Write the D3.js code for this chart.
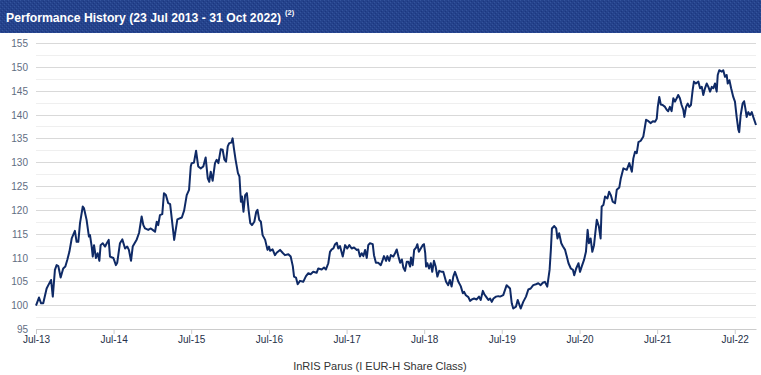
<!DOCTYPE html>
<html>
<head>
<meta charset="utf-8">
<script src="https://cdnjs.cloudflare.com/ajax/libs/d3/7.8.5/d3.min.js"></script>
<style>
	html, body { margin: 0; padding: 0; background: #fff; }
	svg { display: block; font-family: Arial, "Liberation Sans", sans-serif; }
</style>
</head>
<body>
<div id="chart"></div>
<script>
var title = "Performance History (23 Jul 2013 - 31 Oct 2022)";
var titleNote = "(2)";
var seriesName = "InRIS Parus (I EUR-H Share Class)";

var yTicks = [95, 100, 105, 110, 115, 120, 125, 130, 135, 140, 145, 150, 155];
var yMinorTicks = [97.5, 102.5, 107.5, 112.5, 117.5, 122.5, 127.5, 132.5, 137.5, 142.5, 147.5, 152.5];
var xTickDates = ["2013-07-23", "2014-07-23", "2015-07-23", "2016-07-23", "2017-07-23",
	"2018-07-23", "2019-07-23", "2020-07-23", "2021-07-23", "2022-07-23"];
var xTickLabels = ["Jul-13", "Jul-14", "Jul-15", "Jul-16", "Jul-17", "Jul-18", "Jul-19", "Jul-20", "Jul-21", "Jul-22"];
var dateRange = ["2013-07-23", "2022-10-31"];

var dates = [
	"2013-07-23","2013-08-06","2013-08-16","2013-08-26","2013-09-11","2013-09-19","2013-10-02","2013-10-10","2013-10-20","2013-10-28",
	"2013-11-05","2013-11-16","2013-11-28","2013-12-08","2013-12-17","2013-12-27","2014-01-07","2014-01-22","2014-01-30","2014-02-07",
	"2014-02-15","2014-02-28","2014-03-06","2014-03-18","2014-03-29","2014-04-03","2014-04-11","2014-04-16","2014-04-22","2014-05-01",
	"2014-05-09","2014-05-17","2014-05-23","2014-06-02","2014-06-13","2014-06-21","2014-06-30","2014-07-06","2014-07-22","2014-08-03",
	"2014-08-09","2014-08-22","2014-09-02","2014-09-15","2014-09-25","2014-10-03","2014-10-13","2014-10-21","2014-11-09","2014-11-20",
	"2014-12-02","2014-12-10","2014-12-18","2015-01-02","2015-01-14","2015-01-23","2015-02-03","2015-02-11","2015-02-18","2015-02-26",
	"2015-03-09","2015-03-17","2015-03-26","2015-04-06","2015-04-15","2015-05-04","2015-05-19","2015-06-09","2015-06-20","2015-07-02",
	"2015-07-13","2015-07-21","2015-07-25","2015-08-05","2015-08-15","2015-08-25","2015-09-06","2015-09-18","2015-09-29","2015-10-09",
	"2015-10-16","2015-10-23","2015-11-01","2015-11-12","2015-11-20","2015-11-28","2015-12-09","2015-12-18","2015-12-26","2016-01-03",
	"2016-01-11","2016-01-18","2016-01-28","2016-02-03","2016-02-09","2016-02-17","2016-02-28","2016-03-06","2016-03-13","2016-03-18",
	"2016-03-25","2016-04-02","2016-04-10","2016-04-18","2016-04-26","2016-05-04","2016-05-15","2016-05-24","2016-05-30","2016-06-07",
	"2016-06-15","2016-06-23","2016-07-05","2016-07-16","2016-07-23","2016-07-28","2016-08-09","2016-08-20","2016-08-28","2016-09-13",
	"2016-09-25","2016-10-06","2016-10-22","2016-11-02","2016-11-12","2016-11-18","2016-11-27","2016-12-05","2016-12-16","2016-12-31",
	"2017-01-13","2017-01-24","2017-02-04","2017-02-16","2017-03-04","2017-03-12","2017-03-28","2017-04-08","2017-04-17","2017-04-28",
	"2017-05-06","2017-05-14","2017-05-22","2017-05-30","2017-06-07","2017-06-14","2017-06-22","2017-07-05","2017-07-16","2017-07-26",
	"2017-08-05","2017-08-16","2017-08-27","2017-09-09","2017-09-16","2017-09-24","2017-10-02","2017-10-10","2017-10-18","2017-10-26",
	"2017-11-02","2017-11-10","2017-11-23","2017-11-29","2017-12-08","2017-12-19","2017-12-31","2018-01-09","2018-01-15","2018-01-25",
	"2018-01-31","2018-02-09","2018-02-16","2018-02-28","2018-03-08","2018-03-16","2018-03-24","2018-04-01","2018-04-09","2018-04-16",
	"2018-04-24","2018-05-02","2018-05-10","2018-05-18","2018-05-22","2018-05-30","2018-06-06","2018-06-15","2018-06-21","2018-06-28",
	"2018-07-07","2018-07-16","2018-07-22","2018-07-28","2018-08-01","2018-08-07","2018-08-15","2018-08-23","2018-08-30","2018-09-07",
	"2018-09-15","2018-09-23","2018-10-02","2018-10-13","2018-10-21","2018-11-03","2018-11-13","2018-11-21","2018-11-29","2018-12-07",
	"2018-12-15","2018-12-23","2018-12-31","2019-01-11","2019-01-21","2019-01-27","2019-02-04","2019-02-16","2019-02-24","2019-03-04",
	"2019-03-15","2019-03-27","2019-04-07","2019-04-15","2019-04-25","2019-05-02","2019-05-10","2019-05-21","2019-05-29","2019-06-06",
	"2019-06-14","2019-06-26","2019-07-07","2019-07-15","2019-07-30","2019-08-15","2019-08-31","2019-09-08","2019-09-15","2019-09-28",
	"2019-10-06","2019-10-20","2019-11-01","2019-11-14","2019-11-25","2019-12-06","2019-12-18","2019-12-31","2020-01-11","2020-01-22",
	"2020-02-01","2020-02-11","2020-02-22","2020-03-04","2020-03-10","2020-03-15","2020-03-26","2020-04-04","2020-04-10","2020-04-18",
	"2020-04-28","2020-05-06","2020-05-16","2020-05-24","2020-06-01","2020-06-12","2020-06-22","2020-06-28","2020-07-07","2020-07-18",
	"2020-07-25","2020-08-02","2020-08-13","2020-08-22","2020-08-30","2020-09-05","2020-09-13","2020-09-21","2020-09-29","2020-10-05",
	"2020-10-12","2020-10-22","2020-10-30","2020-11-04","2020-11-12","2020-11-20","2020-12-01","2020-12-09","2020-12-17","2020-12-26",
	"2021-01-06","2021-01-14","2021-01-26","2021-02-02","2021-02-14","2021-03-02","2021-03-14","2021-03-26","2021-04-02","2021-04-10",
	"2021-04-18","2021-04-26","2021-05-07","2021-05-19","2021-06-01","2021-06-12","2021-06-23","2021-07-03","2021-07-13","2021-07-21",
	"2021-07-26","2021-08-02","2021-08-09","2021-08-18","2021-08-29","2021-09-06","2021-09-13","2021-09-21","2021-09-29","2021-10-07",
	"2021-10-15","2021-10-23","2021-10-30","2021-11-07","2021-11-15","2021-11-23","2021-11-28","2021-12-06","2021-12-14","2021-12-21",
	"2021-12-29","2022-01-06","2022-01-12","2022-01-21","2022-02-02","2022-02-10","2022-02-18","2022-02-25","2022-03-05","2022-03-13",
	"2022-03-21","2022-03-29","2022-04-06","2022-04-13","2022-04-21","2022-04-29","2022-05-04","2022-05-11","2022-05-23","2022-05-30",
	"2022-06-07","2022-06-15","2022-06-20","2022-06-28","2022-07-06","2022-07-16","2022-07-24","2022-08-01","2022-08-09","2022-08-13",
	"2022-08-20","2022-08-29","2022-09-05","2022-09-11","2022-09-17","2022-09-25","2022-10-03","2022-10-11","2022-10-18","2022-10-31"
];

var values = [
	100.0,101.7,100.5,100.5,103.6,104.3,105.4,101.9,107.5,108.5,
	108.3,105.9,107.8,108.2,109.6,111.3,114.1,115.7,113.4,113.4,
	117.3,120.8,120.4,118.0,114.5,114.8,112.4,110.3,112.7,110.0,
	111.0,109.4,112.7,113.1,112.4,113.1,113.8,110.3,110.0,108.5,
	109.0,113.1,113.9,112.0,112.4,111.7,109.4,112.4,113.9,115.3,
	118.7,116.9,116.2,115.9,116.2,115.9,115.5,117.6,116.9,119.0,
	119.2,123.6,123.2,121.5,121.3,113.8,118.1,118.5,120.0,123.2,
	124.3,129.2,129.9,130.0,132.5,129.2,128.8,129.2,131.1,126.7,
	126.0,128.1,126.2,129.9,130.6,129.9,132.8,132.7,130.7,130.2,
	133.4,134.1,134.2,135.1,133.0,130.6,127.8,127.1,121.8,122.9,
	119.7,123.2,123.6,120.1,117.3,116.9,117.6,119.7,120.1,118.0,
	117.6,114.8,113.8,111.7,112.4,111.5,111.8,110.6,111.1,111.7,
	111.1,110.6,110.8,110.3,108.3,106.1,105.9,104.5,105.2,105.0,
	106.2,106.8,106.6,107.1,106.9,107.8,107.6,108.0,107.6,108.9,
	111.3,111.8,112.0,112.9,113.2,112.0,112.5,110.3,112.7,112.0,
	112.7,112.0,112.2,111.7,111.8,110.3,111.0,110.4,111.7,110.0,
	112.7,113.1,112.9,110.6,109.0,109.0,108.5,109.6,110.4,109.4,
	110.4,109.4,110.6,110.3,111.0,111.8,110.3,109.0,109.7,108.0,
	107.3,109.2,109.2,108.2,110.1,108.5,111.7,112.2,112.9,111.3,
	112.0,112.7,112.9,111.0,108.2,108.9,107.8,108.9,107.1,109.4,
	108.2,106.1,107.3,107.1,107.1,105.0,104.3,105.4,104.0,106.1,
	107.1,106.1,105.0,104.1,102.6,102.9,102.2,101.8,101.0,101.3,
	101.5,101.3,101.9,101.2,103.1,102.4,101.9,101.2,101.5,100.8,
	101.5,101.9,102.0,101.9,102.2,104.3,103.6,100.5,99.4,99.8,
	101.2,99.4,100.8,101.9,103.4,103.6,104.3,104.5,104.7,104.3,
	104.8,105.0,104.0,107.5,111.7,116.2,116.7,116.2,114.1,115.2,
	113.1,112.4,111.7,110.3,108.9,107.8,107.5,106.4,107.8,108.9,
	107.1,108.2,109.6,111.3,115.9,113.1,114.1,111.3,112.7,115.2,
	118.0,116.6,114.1,120.8,121.1,122.9,122.5,123.9,123.2,121.8,
	121.5,124.3,124.8,126.7,128.8,128.5,129.9,128.1,130.9,132.3,
	132.0,134.3,134.6,135.5,139.0,138.7,138.3,138.7,138.6,139.2,
	141.7,143.8,142.2,142.1,141.7,141.1,140.8,141.7,140.8,143.5,
	142.8,143.5,144.2,143.5,142.1,141.1,139.6,141.7,142.4,141.7,
	142.1,145.2,147.0,146.6,147.0,145.6,145.9,144.2,145.6,146.6,
	145.9,144.9,145.9,145.6,146.6,144.9,148.4,149.4,149.1,149.4,
	148.0,148.4,146.6,147.3,145.6,143.8,142.8,139.6,136.9,136.4,
	140.0,142.4,142.9,141.4,139.6,140.6,140.0,140.6,139.6,137.9
];

document.addEventListener("DOMContentLoaded", main);
var canvas = {};

function addCanvas(cont) {
	canvas.width = 761;
	canvas.height = 375;
	canvas.svg = d3.select(cont).append("svg")
		.attr("width", canvas.width)
		.attr("height", canvas.height);

	canvas.plot = { left: 36, right: 756, top: 43.5, bottom: 329.5 };
}

function addHeader() {
	var defs = canvas.svg.append("defs");
	var pat = defs.append("pattern")
		.attr("id", "hatch")
		.attr("width", 4)
		.attr("height", 4)
		.attr("patternUnits", "userSpaceOnUse");
	pat.append("rect").attr("width", 4).attr("height", 4).attr("fill", "#25438c");
	pat.append("rect").attr("x", 0).attr("y", 0).attr("width", 1).attr("height", 1).attr("fill", "#33539c");
	pat.append("rect").attr("x", 2).attr("y", 2).attr("width", 1).attr("height", 1).attr("fill", "#33539c");
	pat.append("rect").attr("x", 1).attr("y", 3).attr("width", 1).attr("height", 1).attr("fill", "#1c3780");
	pat.append("rect").attr("x", 3).attr("y", 1).attr("width", 1).attr("height", 1).attr("fill", "#1c3780");

	canvas.svg.append("rect")
		.attr("width", canvas.width)
		.attr("height", 33)
		.attr("fill", "url(#hatch)");

	// title and superscript note share one text element
	var t = canvas.svg.append("text")
		.attr("x", 6)
		.attr("y", 21.5)
		.attr("fill", "#fff")
		.attr("font-weight", "bold");

	t.append("tspan")
		.attr("font-size", 12.2)
		.text(title);

	t.append("tspan")
		.attr("font-size", 7.5)
		.attr("dx", 4)
		.attr("dy", -7)
		.text(titleNote);
}

function buildChart() {
	var p = canvas.plot;
	var parse = d3.timeParse("%Y-%m-%d");

	var x = d3.scaleTime()
		.domain(dateRange.map(parse))
		.range([p.left, p.right]);

	var y = d3.scaleLinear()
		.domain([d3.min(yTicks), d3.max(yTicks)])
		.range([p.bottom, p.top]);

	var crisp = (v) => Math.round(v - 0.5) + 0.5;

	canvas.svg.append("g").selectAll("line")
		.data(yMinorTicks)
		.join("line")
		.attr("x1", p.left)
		.attr("x2", p.right)
		.attr("y1", (d) => crisp(y(d)))
		.attr("y2", (d) => crisp(y(d)))
		.attr("stroke", "#efefef");

	canvas.svg.append("g").selectAll("line")
		.data(yTicks.slice(1))
		.join("line")
		.attr("x1", p.left)
		.attr("x2", p.right)
		.attr("y1", (d) => crisp(y(d)))
		.attr("y2", (d) => crisp(y(d)))
		.attr("stroke", "#d9d9d9");

	// y labels
	canvas.svg.append("g").selectAll("text")
		.data(yTicks)
		.join("text")
		.attr("x", 28)
		.attr("y", (d) => y(d) + 3.5)
		.attr("text-anchor", "end")
		.attr("font-size", 10)
		.attr("fill", "#5f6d82")
		.text((d) => d);

	// x axis
	var xAxis = d3.axisBottom(x)
		.tickValues(xTickDates.map(parse))
		.tickFormat((d, i) => xTickLabels[i])
		.tickSize(5)
		.tickSizeOuter(0);

	var ax = canvas.svg.append("g")
		.attr("transform", "translate(0," + (crisp(y(d3.min(yTicks))) - 0.5) + ")")
		.call(xAxis);
	ax.select(".domain").attr("stroke", "#cccccc");
	ax.selectAll(".tick line").attr("stroke", "#cccccc");
	ax.selectAll(".tick text")
		.attr("font-family", "Arial, 'Liberation Sans', sans-serif")
		.attr("font-size", 10)
		.attr("fill", "#263049")
		.attr("dy", "0.6em");

	var data = dates.map((d, i) => ({ date: parse(d), value: values[i] }));

	var line = d3.line()
		.x((d) => x(d.date))
		.y((d) => y(d.value));

	canvas.svg.append("path")
		.datum(data)
		.attr("d", line)
		.attr("fill", "none")
		.attr("stroke", "#0f2a66")
		.attr("stroke-width", 2)
		.attr("stroke-linejoin", "round");

	canvas.svg.append("text")
		.attr("x", 380)
		.attr("y", 370)
		.attr("text-anchor", "middle")
		.attr("font-size", 11)
		.attr("fill", "#333")
		.text(seriesName);
}

function main() {
	addCanvas("#chart");
	addHeader();
	buildChart();
}
</script>
</body>
</html>
